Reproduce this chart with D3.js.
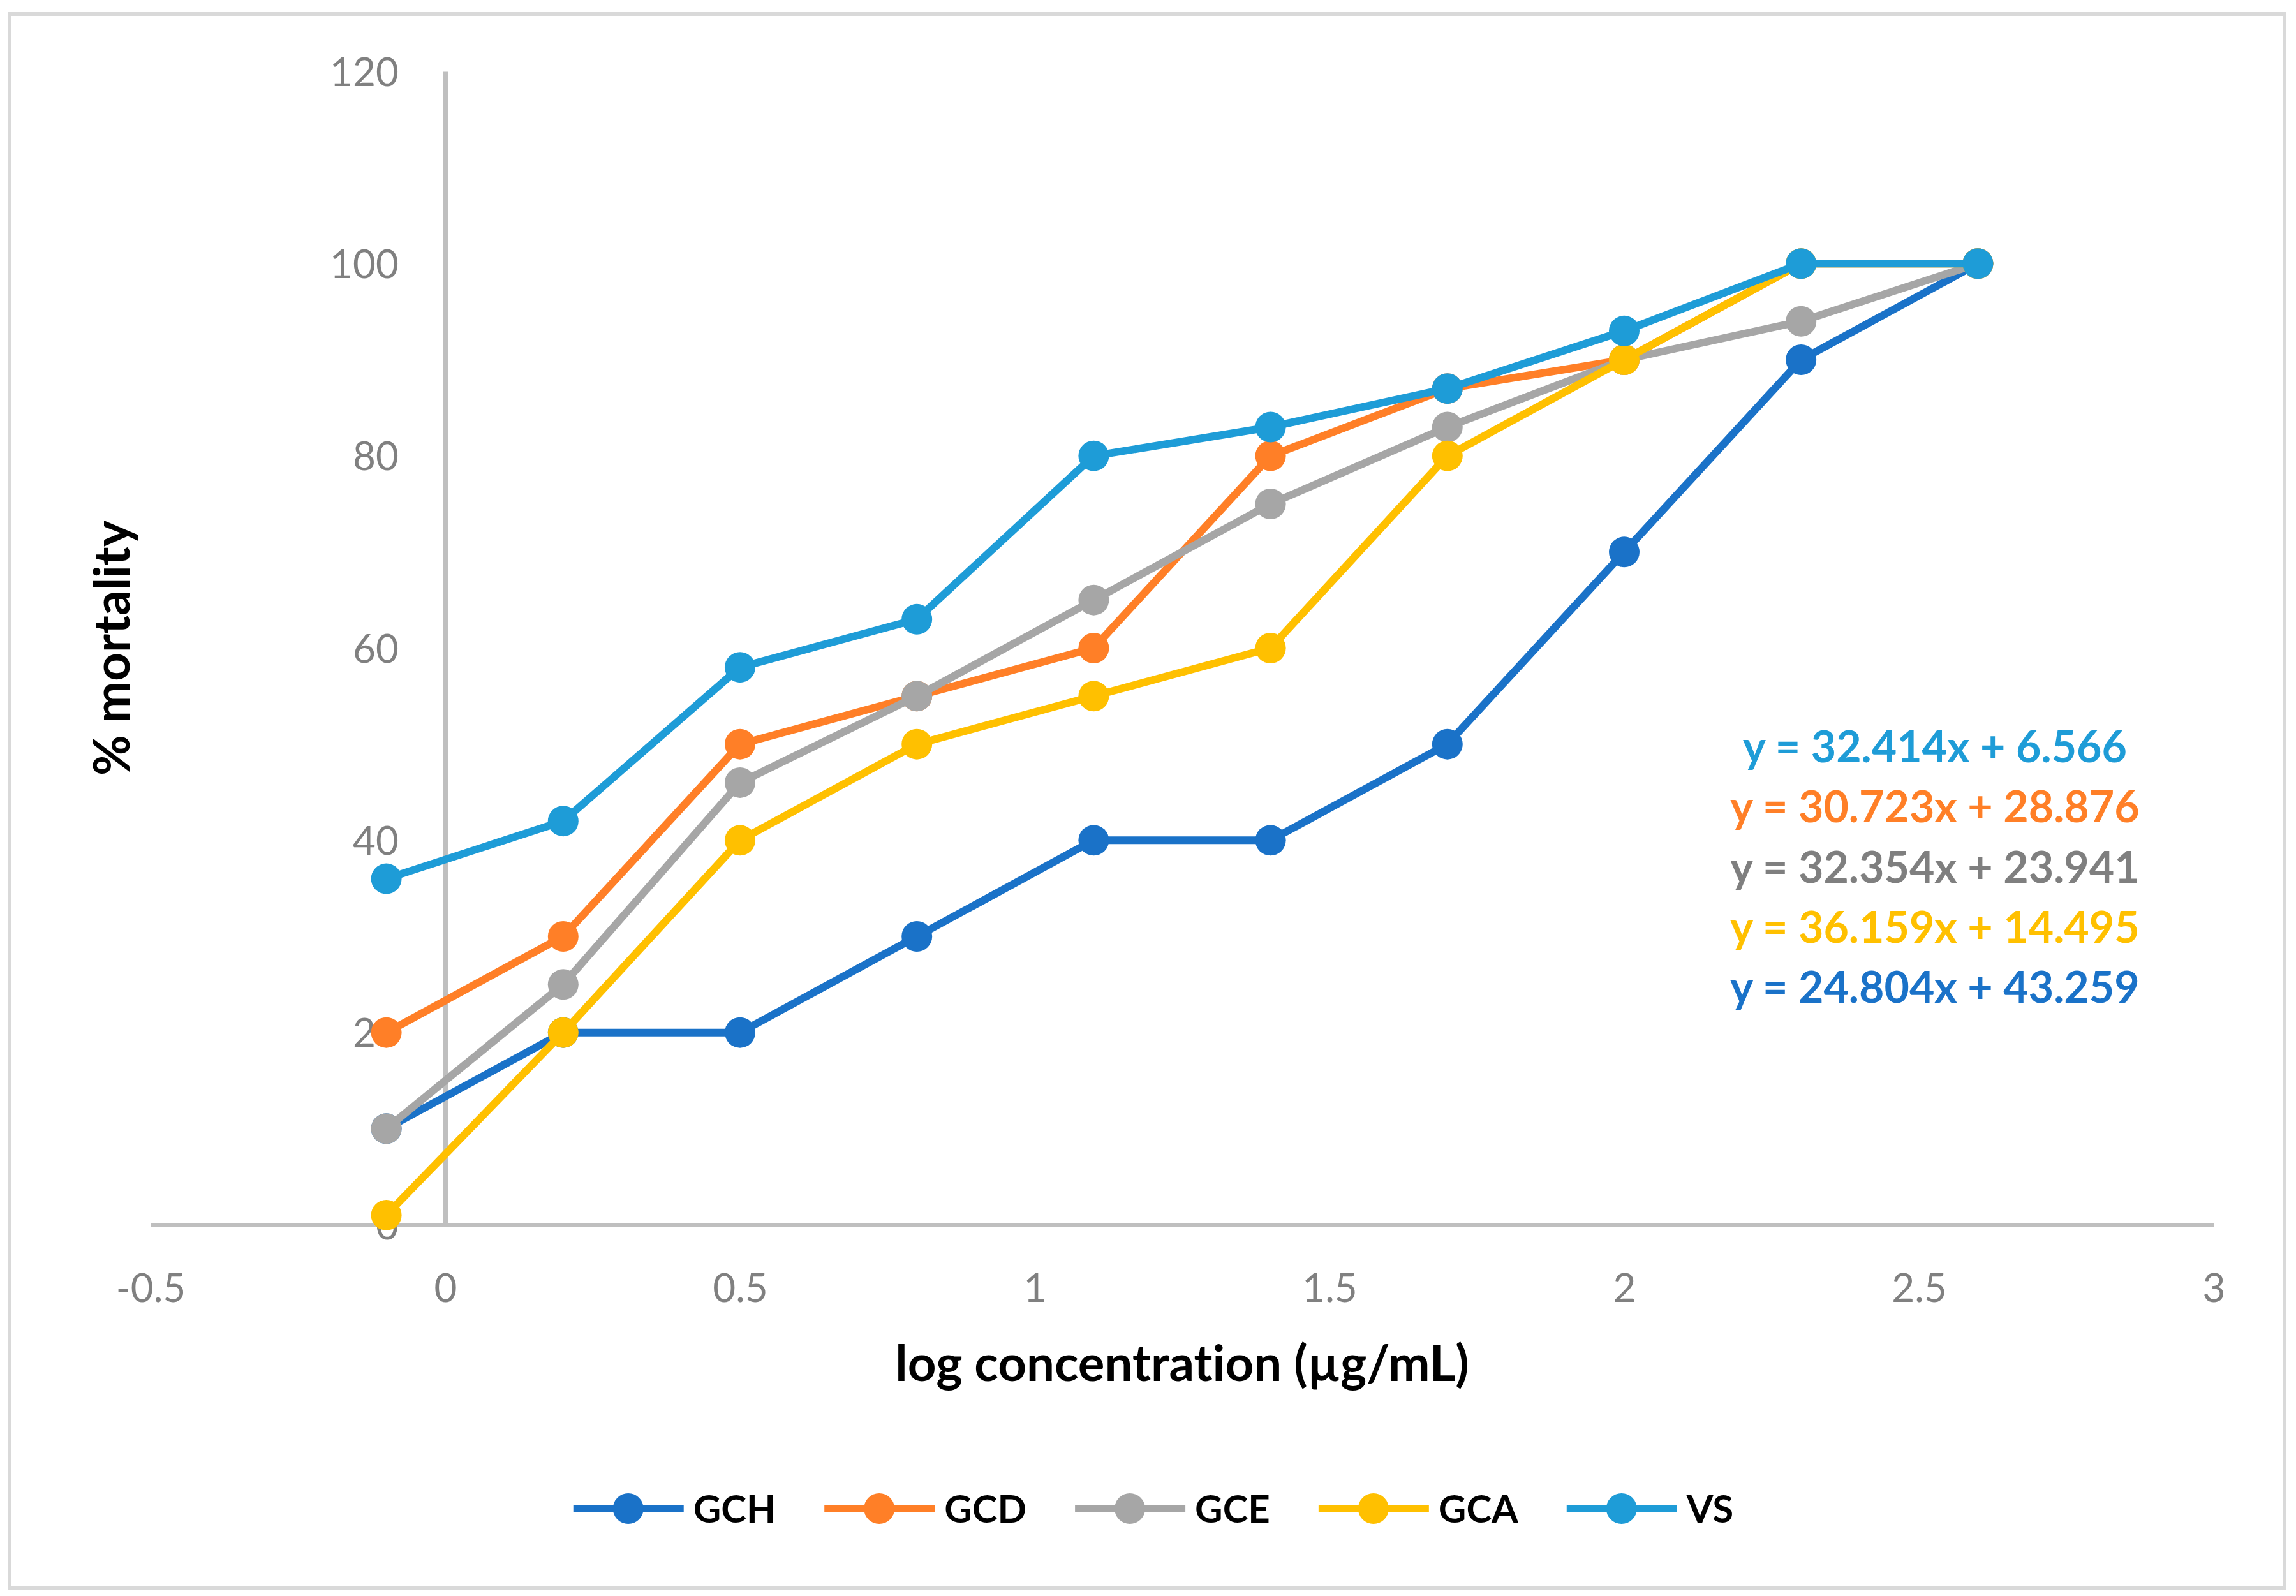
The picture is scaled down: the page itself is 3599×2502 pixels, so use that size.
<!DOCTYPE html>
<html>
<head>
<meta charset="utf-8">
<script src="https://cdn.jsdelivr.net/npm/d3@7"></script>
<style>
  body { margin: 0; background: #fff; }
  svg { display: block; }
  text { font-variant-ligatures: none; }
</style>
</head>
<body>
<svg id="chart"></svg>
<script>
// data
const logConc = [-0.1, 0.2, 0.5, 0.8, 1.1, 1.4, 1.7, 2.0, 2.3, 2.6];
const seriesNames = ['GCH', 'GCD', 'GCE', 'GCA', 'VS'];
const gch = [10, 20, 20, 30, 40, 40, 50, 70, 90, 100];
const gcd = [20, 30, 50, 55, 60, 80, 87, 90, 100, 100];
const gce = [10, 25, 46, 55, 65, 75, 83, 90, 94, 100];
const gca = [1, 20, 40, 50, 55, 60, 80, 90, 100, 100];
const vs  = [36, 42, 58, 63, 80, 83, 87, 93, 100, 100];
const xTicks = [-0.5, 0, 0.5, 1, 1.5, 2, 2.5, 3];
const yTicks = [0, 20, 40, 60, 80, 100, 120];
// trendline equations, listed top to bottom as printed
const equations = ['y = 32.414x + 6.566', 'y = 30.723x + 28.876', 'y = 32.354x + 23.941', 'y = 36.159x + 14.495', 'y = 24.804x + 43.259'];
const equationSeries = ['VS', 'GCD', 'GCE', 'GCA', 'GCH'];

const colors = { GCH: '#1a72c8', GCD: '#ff7f27', GCE: '#a6a6a6', GCA: '#ffc000', VS: '#1e9cd7' };
const eqColors = { GCH: '#1a72c8', GCD: '#ff7f27', GCE: '#7f7f7f', GCA: '#ffc000', VS: '#1e9cd7' };
const values = { GCH: gch, GCD: gcd, GCE: gce, GCA: gca, VS: vs };

const width = 3599;
const height = 2502;
const font = 'Lato, "Open Sans", sans-serif';

const svg = d3.select('#chart')
  .attr('width', width)
  .attr('height', height);

// outer frame
svg.append('rect')
  .attr('x', 15).attr('y', 22)
  .attr('width', 3566).attr('height', 2467)
  .attr('fill', '#fff')
  .attr('stroke', '#d9d9d9')
  .attr('stroke-width', 6);

const xScale = d3.scaleLinear().domain([-0.5, 3]).range([236, 3470]);
const yScale = d3.scaleLinear().domain([0, 120]).range([1920, 112]);

// x axis along y = 0
const xAxis = svg.append('g')
  .attr('transform', `translate(0, ${yScale(0)})`)
  .call(d3.axisBottom(xScale).tickValues(xTicks).tickSize(0).tickPadding(0).tickFormat(d => String(d)));
xAxis.select('.domain').attr('stroke', '#bfbfbf').attr('stroke-width', 7);
xAxis.selectAll('text')
  .attr('y', 121).attr('dy', 0)
  .attr('fill', '#808080')
  .style('font-family', font).style('font-size', '62px');

// y axis crossing at x = 0
const yAxis = svg.append('g')
  .attr('transform', `translate(${xScale(0)}, 0)`)
  .call(d3.axisLeft(yScale).tickValues(yTicks).tickSize(0).tickPadding(0));
yAxis.select('.domain').attr('stroke', '#bfbfbf').attr('stroke-width', 7);
yAxis.selectAll('text')
  .attr('x', 625 - xScale(0)).attr('dy', '0.36em')
  .attr('fill', '#808080')
  .style('font-family', font).style('font-size', '62px');

// axis titles
svg.append('text')
  .attr('x', (xScale.range()[0] + xScale.range()[1]) / 2)
  .attr('y', 2165)
  .attr('text-anchor', 'middle')
  .style('font-family', font).style('font-size', '78px').style('font-weight', 'bold')
  .text('log concentration (µg/mL)');

svg.append('text')
  .attr('transform', `translate(203, ${(yScale.range()[0] + yScale.range()[1]) / 2}) rotate(-90)`)
  .attr('text-anchor', 'middle')
  .style('font-family', font).style('font-size', '78px').style('font-weight', 'bold')
  .text('% mortality');

// series lines and markers
const line = d3.line()
  .x((d, i) => xScale(logConc[i]))
  .y(d => yScale(d));

seriesNames.forEach(name => {
  const g = svg.append('g');
  g.append('path')
    .datum(values[name])
    .attr('d', line)
    .attr('fill', 'none')
    .attr('stroke', colors[name])
    .attr('stroke-width', 12)
    .attr('stroke-linejoin', 'round');
  g.selectAll('circle')
    .data(values[name])
    .enter()
    .append('circle')
    .attr('cx', (d, i) => xScale(logConc[i]))
    .attr('cy', d => yScale(d))
    .attr('r', 24)
    .attr('fill', colors[name]);
});

// trendline equations
svg.append('g')
  .selectAll('text')
  .data(equations)
  .enter()
  .append('text')
  .attr('x', 3033)
  .attr('y', (d, i) => 1195 + i * 94.25)
  .attr('text-anchor', 'middle')
  .attr('fill', (d, i) => eqColors[equationSeries[i]])
  .style('font-family', font).style('font-size', '68px').style('font-weight', 'bold')
  .text(d => d);

// legend
const legend = svg.append('g');
let lx = 0;
seriesNames.forEach(name => {
  const item = legend.append('g').attr('transform', `translate(${lx}, 0)`);
  item.append('line')
    .attr('x1', 0).attr('x2', 173)
    .attr('y1', 0).attr('y2', 0)
    .attr('stroke', colors[name])
    .attr('stroke-width', 12);
  item.append('circle')
    .attr('cx', 86).attr('cy', 0).attr('r', 24)
    .attr('fill', colors[name]);
  const t = item.append('text')
    .attr('x', 188).attr('dy', '0.36em')
    .style('font-family', font).style('font-size', '60px').style('font-weight', 'bold')
    .text(name);
  lx += 188 + t.node().getComputedTextLength() + 76;
});
const legendWidth = lx - 76;
legend.attr('transform', `translate(${1808 - legendWidth / 2}, 2365)`);
</script>
</body>
</html>
